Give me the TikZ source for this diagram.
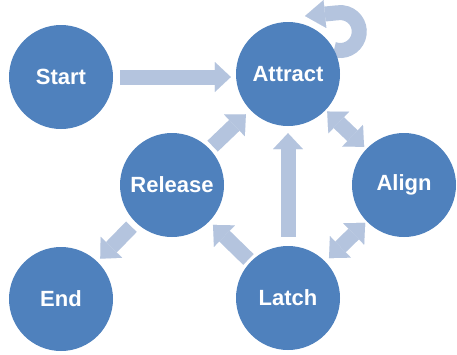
\documentclass[tikz,border=0pt]{standalone}
\usepackage{fontspec}
\setmainfont{Liberation Sans}
\usetikzlibrary{arrows.meta}
\usetikzlibrary{backgrounds}
\definecolor{stateblue}{RGB}{79,129,189}
\definecolor{flowblue}{RGB}{180,196,222}
\tikzset{
  state/.style={circle,fill=stateblue,minimum size=104pt,inner sep=0pt,text=white,font=\fontsize{22}{26}\selectfont\bfseries},
  flowtip/.tip={Triangle[width=30pt,length=16pt,line width=0.01pt]},
  flow/.style={line width=15pt,draw=flowblue,-flowtip},
  bothflow/.style={flow,flowtip-flowtip},
}

\begin{document}
\begin{tikzpicture}[x=1pt,y=1pt]
\useasboundingbox (0,0) rectangle (457,-354);

\node[state] (start) at (61,-77) {Start};
\node[state] (attract) at (288,-74) {Attract};
\node[state] (release) at (172,-185) {Release};
\node[state] (align) at (404,-185) {Align};
\node[state] (end) at (61,-299) {End};
\node[state] (latch) at (288,-298) {Latch};
\coordinate (looptip) at (305,-16);

\draw[flow,shorten <=7pt,shorten >=5pt] (start.east) -- (start.east -| attract.west);
\draw[flow,shorten <=4pt,shorten >=6pt] (release) -- (attract);
\draw[flow,shorten <=9pt,shorten >=7pt] (latch) -- (attract);
\draw[bothflow,shorten <=2pt,shorten >=3pt] (attract) -- (align);
\draw[bothflow,shorten <=2pt,shorten >=5pt] (align) -- (latch);
\draw[flow,shorten <=3pt,shorten >=5pt] (latch) -- (release);
\draw[flow,shorten <=6pt,shorten >=4pt] (release) -- (end);

\begin{scope}[on background layer]
\draw[flow,-{Triangle[width=28pt,length=20pt,line width=0.01pt]}] (attract.28) arc[start angle=-109,end angle=100,radius=19] -- (looptip);
\end{scope}

\end{tikzpicture}
\end{document}
